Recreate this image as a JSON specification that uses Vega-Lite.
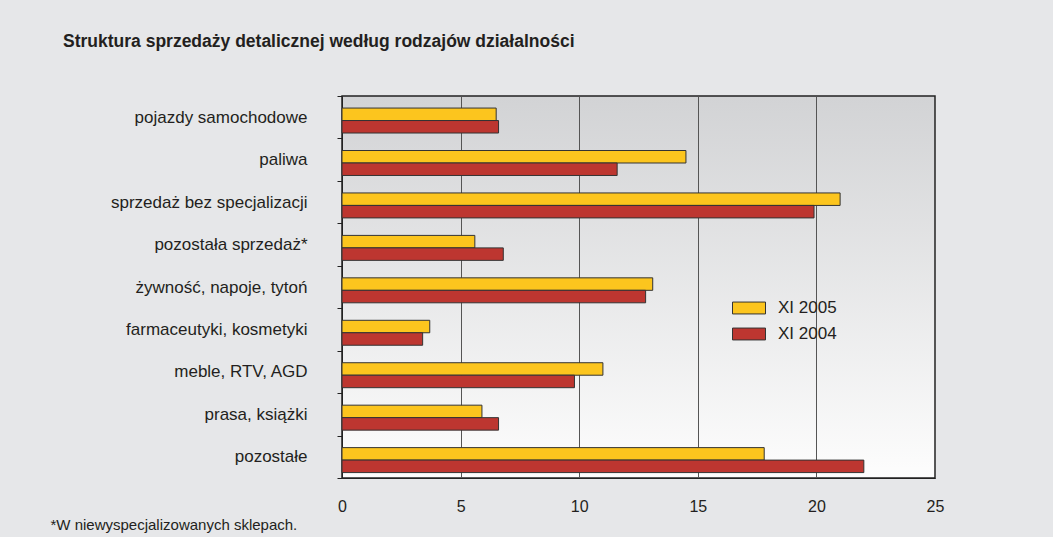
{
  "$schema": "https://vega.github.io/schema/vega-lite/v6.json",
  "autosize": {"type": "none"},
  "width": 593,
  "height": 382,
  "padding": {"left": 342, "top": 96, "right": 118, "bottom": 59},
  "background": "#e6e7e9",
  "title": {
    "text": "Struktura sprzedaży detalicznej według rodzajów działalności",
    "anchor": "start",
    "frame": "group",
    "dx": -279,
    "offset": 37,
    "font": "Liberation Sans",
    "fontSize": 17.5,
    "fontWeight": "bold",
    "color": "#231f20"
  },
  "config": {
    "font": "Liberation Sans",
    "view": {
      "stroke": "#222222",
      "strokeWidth": 1.5,
      "fill": {
        "gradient": "linear",
        "x1": 0, "y1": 0, "x2": 0, "y2": 1,
        "stops": [
          {"offset": 0, "color": "#d2d3d5"},
          {"offset": 1, "color": "#fdfdfd"}
        ]
      }
    }
  },
  "data": {
    "values": [
      {"category": "pojazdy samochodowe", "series": "XI 2005", "value": 6.5},
      {"category": "pojazdy samochodowe", "series": "XI 2004", "value": 6.6},
      {"category": "paliwa", "series": "XI 2005", "value": 14.5},
      {"category": "paliwa", "series": "XI 2004", "value": 11.6},
      {"category": "sprzedaż bez specjalizacji", "series": "XI 2005", "value": 21.0},
      {"category": "sprzedaż bez specjalizacji", "series": "XI 2004", "value": 19.9},
      {"category": "pozostała sprzedaż*", "series": "XI 2005", "value": 5.6},
      {"category": "pozostała sprzedaż*", "series": "XI 2004", "value": 6.8},
      {"category": "żywność, napoje, tytoń", "series": "XI 2005", "value": 13.1},
      {"category": "żywność, napoje, tytoń", "series": "XI 2004", "value": 12.8},
      {"category": "farmaceutyki, kosmetyki", "series": "XI 2005", "value": 3.7},
      {"category": "farmaceutyki, kosmetyki", "series": "XI 2004", "value": 3.4},
      {"category": "meble, RTV, AGD", "series": "XI 2005", "value": 11.0},
      {"category": "meble, RTV, AGD", "series": "XI 2004", "value": 9.8},
      {"category": "prasa, książki", "series": "XI 2005", "value": 5.9},
      {"category": "prasa, książki", "series": "XI 2004", "value": 6.6},
      {"category": "pozostałe", "series": "XI 2005", "value": 17.8},
      {"category": "pozostałe", "series": "XI 2004", "value": 22.0}
    ]
  },
  "mark": {"type": "bar", "stroke": "#333333", "strokeWidth": 1},
  "encoding": {
    "y": {
      "field": "category",
      "type": "nominal",
      "sort": ["pojazdy samochodowe", "paliwa", "sprzedaż bez specjalizacji", "pozostała sprzedaż*", "żywność, napoje, tytoń", "farmaceutyki, kosmetyki", "meble, RTV, AGD", "prasa, książki", "pozostałe"],
      "scale": {"paddingInner": 0, "paddingOuter": 0},
      "axis": {
        "title": null,
        "tickBand": "extent",
        "tickSize": 5,
        "tickColor": "#222222",
        "domainColor": "#222222",
        "labelPadding": 30,
        "labelFontSize": 17,
        "labelColor": "#231f20",
        "labelFont": "Liberation Sans",
        "labelLimit": 320
      }
    },
    "yOffset": {
      "field": "series",
      "type": "nominal",
      "sort": ["XI 2005", "XI 2004"],
      "scale": {"paddingInner": 0, "paddingOuter": 0.7, "align": 0.69}
    },
    "x": {
      "field": "value",
      "type": "quantitative",
      "scale": {"domain": [0, 25], "nice": false},
      "axis": {
        "values": [0, 5, 10, 15, 20, 25],
        "grid": true,
        "gridColor": "#555555",
        "gridOpacity": 1,
        "gridWidth": 1,
        "ticks": false,
        "labelFlush": false,
        "domainColor": "#222222",
        "labelPadding": 20,
        "labelFontSize": 16,
        "labelColor": "#231f20",
        "labelFont": "Liberation Sans",
        "title": "*W niewyspecjalizowanych sklepach.",
        "titleFont": "Liberation Sans",
        "titleFontSize": 15,
        "titleFontWeight": "normal",
        "titleColor": "#231f20",
        "titleX": -292,
        "titleY": 46,
        "titleAlign": "left",
        "titleAnchor": "start",
        "titleBaseline": "middle"
      }
    },
    "color": {
      "field": "series",
      "type": "nominal",
      "scale": {"domain": ["XI 2005", "XI 2004"], "range": ["#fcc51e", "#bd3630"]},
      "legend": {
        "title": null,
        "orient": "none",
        "legendX": 390,
        "legendY": 195,
        "padding": 0,
        "symbolType": "M-1,-0.36H1V0.36H-1Z",
        "symbolSize": 1089,
        "symbolStrokeColor": "#333333",
        "symbolStrokeWidth": 1,
        "symbolOpacity": 1,
        "labelFontSize": 17,
        "labelFont": "Liberation Sans",
        "labelColor": "#231f20",
        "labelOffset": 12,
        "rowPadding": 1
      }
    }
  }
}
